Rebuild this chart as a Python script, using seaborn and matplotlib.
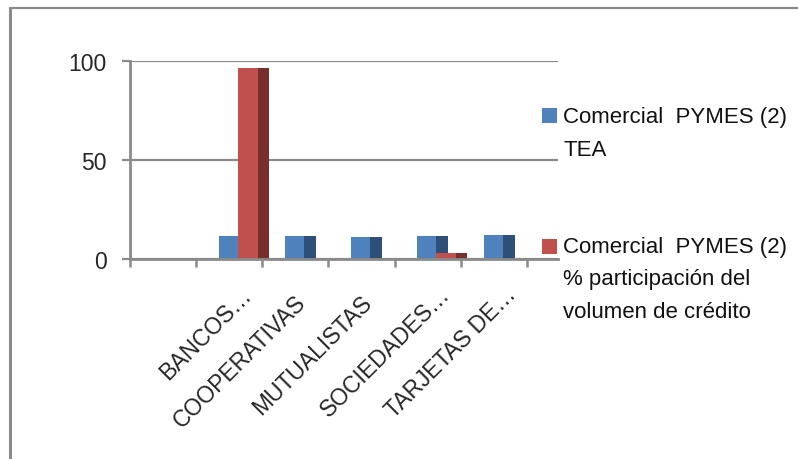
import numpy as np
import pandas as pd
import seaborn as sns
import matplotlib.pyplot as plt
import matplotlib.transforms as mtransforms
from matplotlib.lines import Line2D
from matplotlib.patches import Rectangle

# Data
categories = ["", "BANCOS…", "COOPERATIVAS", "MUTUALISTAS", "SOCIEDADES…", "TARJETAS DE…"]
tea = [np.nan, 11.5, 11.5, 11.3, 11.5, 11.9]
participacion = [np.nan, 96.3, 0.0, 0.0, 3.0, 0.0]
series_labels = ["Comercial  PYMES (2)\nTEA",
                 "Comercial  PYMES (2)\n% participación del\nvolumen de crédito"]

blue, blue_dark = "#4F81BD", "#2E4F78"
red, red_dark = "#C0504D", "#772E2C"
gray = "#8A8A8A"

sns.set_theme(style="white")
plt.rcParams["font.family"] = ["Liberation Sans", "DejaVu Sans"]

W, H = 798, 460
fig = plt.figure(figsize=(W / 100, H / 100), dpi=100)
ax = fig.add_axes([130 / W, 1 - 260 / H, (558 - 130) / W, (260 - 62) / H])

df = pd.DataFrame({"pos": np.arange(len(categories)), "tea": tea, "part": participacion})

# pseudo-3D columns: front face + darker side face for each series
common = dict(native_scale=True, errorbar=None, saturation=1, linewidth=0, ax=ax)
sns.barplot(x=df["pos"] - 0.011, y=df["tea"], width=0.287, color=blue, **common)
sns.barplot(x=df["pos"] + 0.223, y=df["tea"], width=0.18, color=blue_dark, **common)
sns.barplot(x=df["pos"] + 0.283, y=df["part"], width=0.302, color=red, **common)
sns.barplot(x=df["pos"] + 0.517, y=df["part"], width=0.166, color=red_dark, **common)

ax.set_xlim(-0.5, 5.97)
ax.set_ylim(0, 100)
ax.set_xlabel("")
ax.set_ylabel("")

# tick marks at category boundaries, labels at centres
ax.set_xticks(np.arange(-0.5, 6, 1))
ax.set_xticklabels([])
ax.set_xticks(df["pos"], minor=True)
ax.set_xticklabels(categories, minor=True, rotation=45, ha="right",
                   va="center", rotation_mode="anchor", fontsize=16.5)
ax.tick_params(axis="x", which="major", direction="out", length=6, width=1.8,
               color=gray, bottom=True)
ax.tick_params(axis="x", which="minor", length=0, pad=30)
for lab in ax.get_xticklabels(minor=True):
    dx, dy = (19, -32) if lab.get_text().endswith("…") else (7, -40)
    lab.set_transform(lab.get_transform() +
                      mtransforms.ScaledTranslation(dx / 100, (dy + 42) / 100, fig.dpi_scale_trans))

ax.set_yticks([0, 50, 100])
ax.tick_params(axis="y", direction="out", length=6, width=1.6, color=gray,
               labelsize=16.5, pad=11, left=True)

ax.set_axisbelow(True)
ax.yaxis.grid(True, color=gray, linewidth=1.6)
for side in ["top", "right"]:
    ax.spines[side].set_visible(False)
for side in ["left", "bottom"]:
    ax.spines[side].set_color(gray)
    ax.spines[side].set_linewidth(2)

# legend drawn at the right, markers aligned with first text line
# (baseline alignment of multi-line text uses the last line)
for (ytop, color), text, base in zip([(109, blue), (240, red)], series_labels, [156, 318]):
    fig.add_artist(Rectangle((542 / W, 1 - (ytop + 15) / H), 15 / W, 15 / H,
                             transform=fig.transFigure, color=color, lw=0))
    fig.text(563 / W, 1 - base / H, text, fontsize=16, va="baseline", ha="left",
             linespacing=1.73, color="#111111")

# chart border
fig.add_artist(Line2D([10 / W, 10 / W], [0, 1 - 9 / H], transform=fig.transFigure,
                      color=gray, lw=2.2))
fig.add_artist(Line2D([10 / W, 1], [1 - 9 / H, 1 - 9 / H], transform=fig.transFigure,
                      color=gray, lw=1.6))

fig.savefig("out.png", dpi=100, facecolor="white")
